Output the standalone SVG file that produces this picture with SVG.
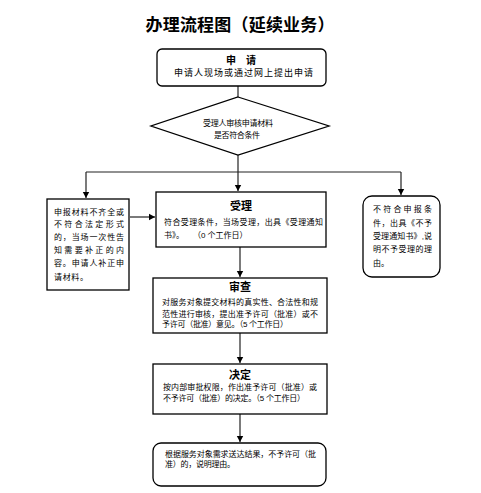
<svg xmlns="http://www.w3.org/2000/svg" width="481" height="493" viewBox="0 0 481 493">
<defs>
<marker id="arr" markerWidth="8" markerHeight="8" refX="6" refY="4" orient="auto" markerUnits="userSpaceOnUse">
<path d="M0,0.8 L6,4 L0,7.2 Z" fill="#000"/>
</marker>
</defs>
<style>
.box{fill:#fff;stroke:#000;stroke-width:1.3}
.t{font-family:"Liberation Sans","Noto Sans CJK SC",sans-serif;font-size:8px;fill:#000}
.h{font-family:"Liberation Sans","Noto Sans CJK SC",sans-serif;font-size:11px;font-weight:bold;fill:#000;text-anchor:middle}
.ln{fill:none;stroke:#222;stroke-width:1.2}
</style>
<rect width="481" height="493" fill="#fff"/>
<text x="240" y="31" text-anchor="middle" style="font-family:'Noto Sans CJK SC',sans-serif;font-size:17px;font-weight:bold" textLength="189" lengthAdjust="spacing">办理流程图（延续业务）</text>

<g id="connectors">
<path class="ln" d="M238,86 V97"/>
<path class="ln" d="M238,155 V172"/>
<path class="ln" d="M86,172 H401"/>
<path class="ln" d="M238,172 V191" marker-end="url(#arr)"/>
<path class="ln" d="M86,172 V198" marker-end="url(#arr)"/>
<path class="ln" d="M401,172 V195" marker-end="url(#arr)"/>
<path class="ln" d="M130,217 H155" marker-end="url(#arr)"/>
<path class="ln" d="M240,247 V277" marker-end="url(#arr)"/>
<path class="ln" d="M240,333 V363" marker-end="url(#arr)"/>
<path class="ln" d="M240,414 V442" marker-end="url(#arr)"/>
</g>

<g id="apply">
<rect class="box" x="157" y="49" width="169" height="37" rx="5"/>
<text class="h" x="241" y="64" style="font-size:10px">申　请</text>
<text class="t" x="174" y="76" style="font-size:9px" textLength="139" lengthAdjust="spacing">申请人现场或通过网上提出申请</text>
</g>

<g id="check">
<polygon class="box" points="238,97 329,126 238,155 151,126"/>
<text class="t" x="203" y="126" textLength="70" lengthAdjust="spacing">受理人审核申请材料</text>
<text class="t" x="214" y="138" textLength="46" lengthAdjust="spacing">是否符合条件</text>
</g>

<g id="supplement">
<rect class="box" x="47" y="199" width="82" height="91"/>
<text class="t" x="54" y="215" textLength="70" lengthAdjust="spacing">申报材料不齐全或</text>
<text class="t" x="54" y="227" textLength="70" lengthAdjust="spacing">不符合法定形式</text>
<text class="t" x="54" y="240" textLength="70" lengthAdjust="spacing">的，当场一次性告</text>
<text class="t" x="54" y="253" textLength="70" lengthAdjust="spacing">知需要补正的内</text>
<text class="t" x="54" y="266" textLength="70" lengthAdjust="spacing">容。申请人补正申</text>
<text class="t" x="54" y="280" textLength="34" lengthAdjust="spacing">请材料。</text>
</g>

<g id="accept">
<rect class="box" x="156" y="192" width="170" height="55"/>
<text class="h" x="241" y="210">受理</text>
<text class="t" x="164" y="225" textLength="159" lengthAdjust="spacing">符合受理条件，当场受理，出具《受理通知</text>
<text class="t" x="164" y="238" xml:space="preserve">书》。    （0 个工作日）</text>
</g>

<g id="reject">
<rect class="box" x="363" y="196" width="77" height="81" rx="9"/>
<text class="t" x="373" y="212" textLength="59" lengthAdjust="spacing">不符合申报条</text>
<text class="t" x="373" y="226" textLength="59" lengthAdjust="spacing">件，出具《不予</text>
<text class="t" x="373" y="239" textLength="59" lengthAdjust="spacing">受理通知书》,说</text>
<text class="t" x="373" y="252" textLength="59" lengthAdjust="spacing">明不予受理的理</text>
<text class="t" x="373" y="266">由。</text>
</g>

<g id="review">
<rect class="box" x="153" y="278" width="174" height="55"/>
<text class="h" x="240" y="291">审查</text>
<text class="t" x="162" y="305" textLength="156" lengthAdjust="spacing">对服务对象提交材料的真实性、合法性和规</text>
<text class="t" x="162" y="316.5" textLength="156" lengthAdjust="spacing">范性进行审核，提出准予许可（批准）或不</text>
<text class="t" x="162" y="327" textLength="126" lengthAdjust="spacing">予许可（批准）意见。（5 个工作日）</text>
</g>

<g id="decide">
<rect class="box" x="153" y="364" width="174" height="50"/>
<text class="h" x="240" y="379">决定</text>
<text class="t" x="163" y="390" textLength="154" lengthAdjust="spacing">按内部审批权限，作出准予许可（批准）或</text>
<text class="t" x="163" y="401" textLength="142" lengthAdjust="spacing">不予许可（批准）的决定。（5 个工作日）</text>
</g>

<g id="deliver">
<rect class="box" x="153" y="443" width="173" height="43" rx="8"/>
<text class="t" x="165" y="457" textLength="151" lengthAdjust="spacing">根据服务对象需求送达结果，不予许可（批</text>
<text class="t" x="165" y="467" textLength="70" lengthAdjust="spacing">准）的，说明理由。</text>
</g>
</svg>
